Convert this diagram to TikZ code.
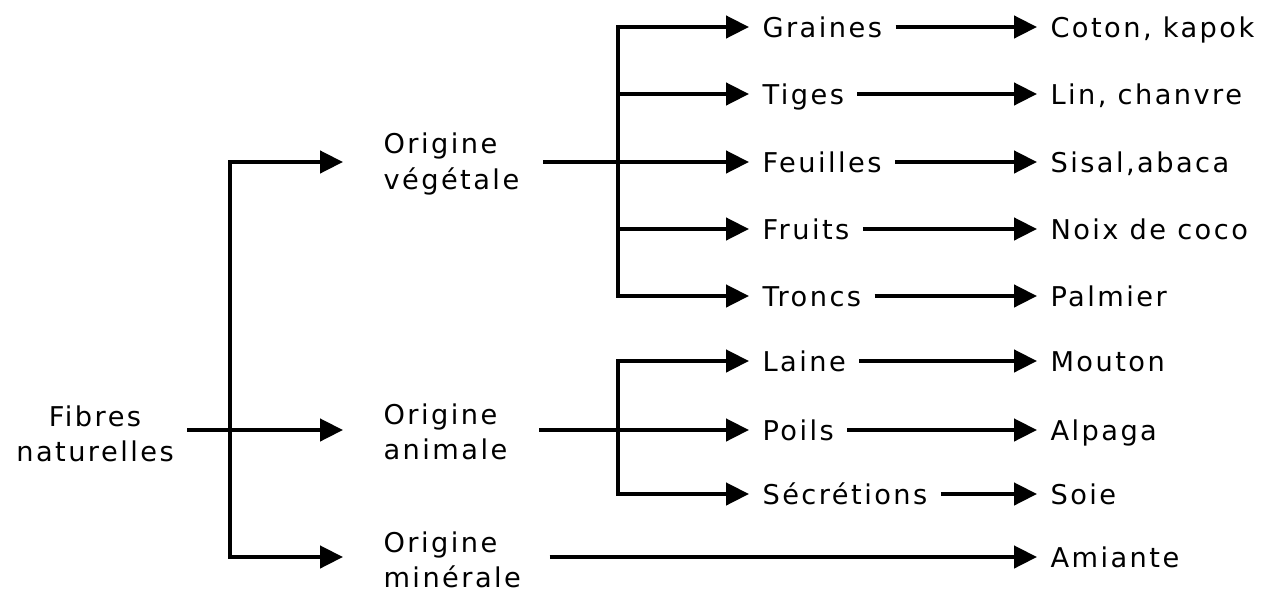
\documentclass[tikz,border=0pt]{standalone}
\usepackage{fontspec}
\setmainfont{DejaVu Sans}[LetterSpace=9]
\usepackage{tikz}
\usetikzlibrary{positioning,arrows.meta,calc}

\tikzset{
  lbltwo/.style={anchor=west, inner xsep=7.5pt, inner ysep=0pt, font=\fontsize{15.5pt}{20pt}\selectfont, align=left},
  lbl/.style={lbltwo, text height=11.4pt, text depth=0pt},
  arr/.style={-{Triangle[length=13pt,width=12.5pt]}, line width=2.3pt},
  ln/.style={line width=2.3pt, line cap=rect},
}

\begin{document}
\begin{tikzpicture}[x=0.02cm,y=-0.02cm]
\useasboundingbox (0,0) rectangle (1267,592);

% Root
\node[lbltwo, anchor=center, align=center] (fibres) at (95,434) {Fibres\\naturelles};

% Origins
\node[lbltwo] (veg) at (370,164) {Origine\\végétale};
\node[lbltwo] (ani) at (370,432) {Origine\\animale};
\node[lbltwo] (min) at (370,560) {Origine\\minérale};

% Vegetal parts
\node[lbl] (gra) at (749,27)  {Graines};
\node[lbl] (tig) at (749,94)  {Tiges};
\node[lbl] (feu) at (749,162) {Feuilles};
\node[lbl] (fru) at (749,229) {Fruits};
\node[lbl] (tro) at (749,296) {Troncs};

% Animal parts
\node[lbl] (lai) at (749,361) {Laine};
\node[lbl] (poi) at (749,430) {Poils};
\node[lbl] (sec) at (749,494) {Sécrétions};

% Examples
\node[lbl] (cot) at (1037,27)  {Coton, kapok};
\node[lbl] (lin) at (1037,94)  {Lin, chanvre};
\node[lbl] (sis) at (1037,162) {Sisal,abaca};
\node[lbl] (noi) at (1037,229) {Noix de coco};
\node[lbl] (pal) at (1037,296) {Palmier};
\node[lbl] (mou) at (1037,361) {Mouton};
\node[lbl] (alp) at (1037,430) {Alpaga};
\node[lbl] (soi) at (1037,494) {Soie};
\node[lbl] (ami) at (1037,557) {Amiante};

% Bus positions
\coordinate (tr0) at (230,162);
\coordinate (tr1) at (230,430);
\coordinate (tr3) at (230,557);
\coordinate (vb) at (618,162);
\coordinate (ab) at (618,430);

% Root trunk
\draw[ln] (tr0) -- (tr3);
\draw[arr, shorten >=0.54cm] (fibres.east |- tr1) -- (tr1 -| ani.west);
\draw[arr, shorten >=0.54cm] (tr0) -- (tr0 -| veg.west);
\draw[arr, shorten >=0.54cm] (tr3) -- (tr3 -| min.west);

% Vegetal bus
\draw[ln, shorten <=0.24cm] (veg.east |- vb) -- (vb);
\draw[ln] (vb |- gra) -- (vb |- tro);
\draw[arr] (vb |- gra) -- (gra.west);
\draw[arr] (vb |- tig) -- (tig.west);
\draw[arr] (vb |- feu) -- (feu.west);
\draw[arr] (vb |- fru) -- (fru.west);
\draw[arr] (vb |- tro) -- (tro.west);

% Animal bus
\draw[ln, shorten <=0.4cm] (ani.east |- ab) -- (ab);
\draw[ln] (ab |- lai) -- (ab |- sec);
\draw[arr] (ab |- lai) -- (lai.west);
\draw[arr] (ab |- poi) -- (poi.west);
\draw[arr] (ab |- sec) -- (sec.west);

% To examples
\draw[arr] (gra.east) -- (cot.west);
\draw[arr] (tig.east) -- (lin.west);
\draw[arr] (feu.east) -- (sis.west);
\draw[arr] (fru.east) -- (noi.west);
\draw[arr] (tro.east) -- (pal.west);
\draw[arr] (lai.east) -- (mou.west);
\draw[arr] (poi.east) -- (alp.west);
\draw[arr] (sec.east) -- (soi.west);
\draw[arr, shorten <=0.3cm] (min.east |- ami) -- (ami.west);

\end{tikzpicture}
\end{document}
